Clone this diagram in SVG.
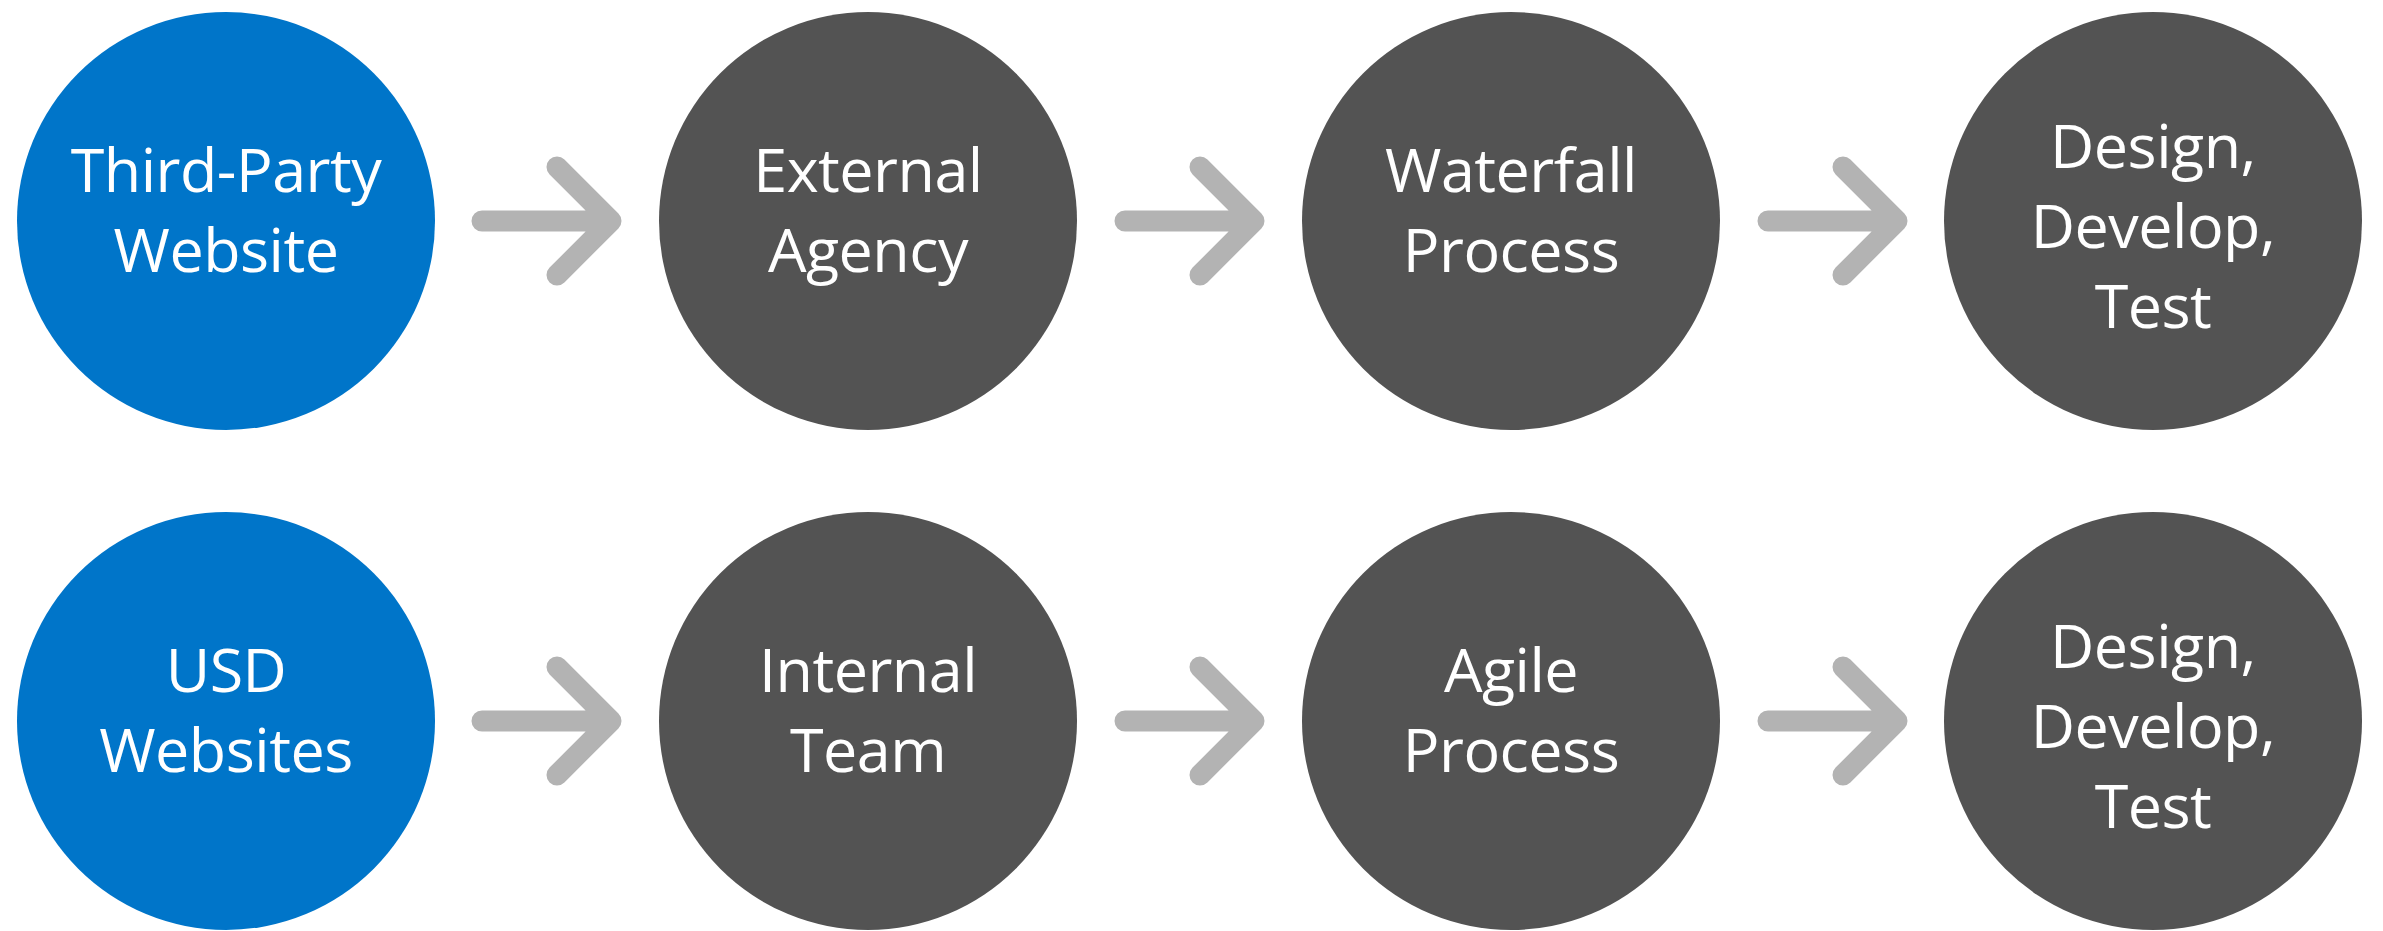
<svg xmlns="http://www.w3.org/2000/svg" width="2383" height="931" viewBox="0 0 2383 931">
<style>
.blue{fill:#0075c9}
.dark{fill:#535353}
.lbl{fill:#ffffff;font-family:"Open Sans","Noto Sans",sans-serif;font-size:61px;text-anchor:middle;letter-spacing:-0.5px}
.arr{fill:none;stroke:#b3b3b3;stroke-width:21;stroke-linecap:round;stroke-linejoin:round}
</style>
<rect width="2383" height="931" fill="#ffffff"/>
<g id="connectors">
<path class="arr" d="M482 221H611M557 167L611 221L557 275"/>
<path class="arr" d="M1125 221H1254M1200 167L1254 221L1200 275"/>
<path class="arr" d="M1768 221H1897M1843 167L1897 221L1843 275"/>
<path class="arr" d="M482 721H611M557 667L611 721L557 775"/>
<path class="arr" d="M1125 721H1254M1200 667L1254 721L1200 775"/>
<path class="arr" d="M1768 721H1897M1843 667L1897 721L1843 775"/>
</g>
<g id="n1"><circle class="blue" cx="226" cy="221" r="209"/><text class="lbl"><tspan x="226" y="192">Third-Party</tspan><tspan x="226" y="272">Website</tspan></text></g>
<g id="n2"><circle class="dark" cx="868" cy="221" r="209"/><text class="lbl"><tspan x="868" y="192">External</tspan><tspan x="868" y="272">Agency</tspan></text></g>
<g id="n3"><circle class="dark" cx="1511" cy="221" r="209"/><text class="lbl"><tspan x="1511" y="192">Waterfall</tspan><tspan x="1511" y="272">Process</tspan></text></g>
<g id="n4"><circle class="dark" cx="2153" cy="221" r="209"/><text class="lbl"><tspan x="2153" y="168">Design,</tspan><tspan x="2153" y="248">Develop,</tspan><tspan x="2153" y="328">Test</tspan></text></g>
<g id="n5"><circle class="blue" cx="226" cy="721" r="209"/><text class="lbl"><tspan x="226" y="692">USD</tspan><tspan x="226" y="772">Websites</tspan></text></g>
<g id="n6"><circle class="dark" cx="868" cy="721" r="209"/><text class="lbl"><tspan x="868" y="692">Internal</tspan><tspan x="868" y="772">Team</tspan></text></g>
<g id="n7"><circle class="dark" cx="1511" cy="721" r="209"/><text class="lbl"><tspan x="1511" y="692">Agile</tspan><tspan x="1511" y="772">Process</tspan></text></g>
<g id="n8"><circle class="dark" cx="2153" cy="721" r="209"/><text class="lbl"><tspan x="2153" y="668">Design,</tspan><tspan x="2153" y="748">Develop,</tspan><tspan x="2153" y="828">Test</tspan></text></g>
</svg>
